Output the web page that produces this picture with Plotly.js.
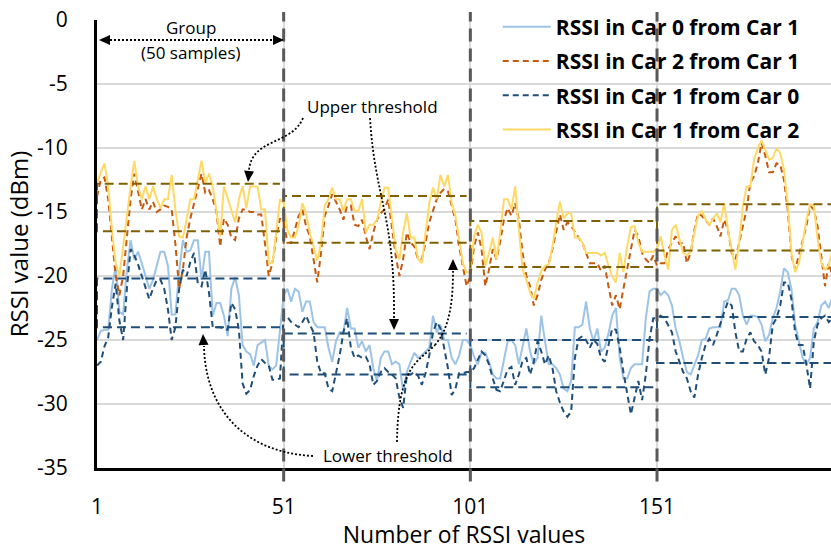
<!DOCTYPE html>
<html><head><meta charset="utf-8">
<script src="https://cdn.plot.ly/plotly-3.0.1.min.js"></script>
<style>html,body{margin:0;padding:0;background:#fff}#chart{width:831px;height:550px}</style>
</head><body><div id="chart"></div>
<script>
// ---------------- data ----------------
const seriesNames = ["RSSI in Car 0 from Car 1", "RSSI in Car 2 from Car 1", "RSSI in Car 1 from Car 0", "RSSI in Car 1 from Car 2"];

const car0FromCar1 = [
-25.0,-24.3,-24.2,-24.2,-21.0,-19.2,-22.8,-23.0,-19.5,-17.2,-18.7,-18.1,-19.0,-20.0,-21.0,-20.3,-19.2,-18.1,-18.1,-19.2,-23.0,-23.0,-19.7,-17.2,-18.1,-18.0,-17.2,-17.2,-20.3,-18.1,-18.1,-23.1,-22.1,-22.1,-23.1,-24.7,-21.0,-20.1,-21.5,-25.4,-25.9,-26.1,-27.0,-25.4,-25.2,-25.0,-27.0,-27.3,-27.0,-24.4,
-21.5,-21.0,-22.0,-21.0,-21.2,-22.8,-22.0,-22.0,-23.6,-24.0,-24.0,-24.0,-25.6,-26.7,-25.1,-24.4,-24.4,-22.5,-24.1,-24.1,-25.6,-25.1,-25.9,-25.4,-27.2,-28.2,-26.4,-25.9,-25.9,-26.9,-26.7,-26.9,-29.0,-27.5,-26.7,-26.0,-26.4,-26.2,-25.9,-25.6,-23.1,-24.4,-23.8,-25.0,-25.0,-26.4,-26.9,-26.2,-25.0,-25.0,
-25.4,-26.3,-26.9,-26.0,-26.0,-26.7,-27.7,-28.0,-28.0,-26.4,-25.1,-25.0,-25.4,-26.9,-25.6,-24.1,-25.9,-26.9,-26.4,-23.1,-25.1,-26.9,-26.9,-27.2,-27.7,-28.8,-29.0,-28.2,-24.0,-24.0,-23.8,-22.0,-24.1,-25.1,-24.1,-25.9,-25.6,-24.5,-23.1,-22.5,-26.4,-28.0,-28.0,-27.2,-26.9,-26.9,-26.9,-23.3,-21.2,-21.0,
-21.0,-21.5,-21.2,-21.5,-22.3,-24.1,-25.1,-26.4,-27.5,-27.7,-26.9,-26.2,-25.0,-24.9,-24.1,-24.0,-24.0,-24.0,-22.0,-21.9,-21.0,-21.0,-21.5,-23.1,-23.8,-23.1,-23.1,-23.2,-23.8,-25.1,-24.6,-23.3,-22.5,-21.2,-19.4,-19.7,-21.0,-23.8,-25.1,-26.4,-26.9,-26.4,-24.1,-23.6,-22.3,-22.0,-22.5,-21.6
];

const car2FromCar1 = [
-13.8,-12.5,-12.3,-14.0,-17.0,-20.0,-21.5,-20.0,-17.0,-14.0,-12.0,-13.5,-14.8,-14.0,-14.8,-14.2,-15.0,-14.8,-14.5,-14.6,-14.8,-17.5,-21.0,-19.5,-17.0,-15.5,-14.3,-13.0,-12.0,-13.5,-13.3,-14.0,-15.0,-17.7,-15.5,-16.0,-17.0,-17.2,-15.5,-14.8,-14.8,-15.0,-15.0,-15.2,-15.2,-17.5,-20.0,-19.0,-17.0,-15.5,
-15.8,-17.4,-17.4,-16.4,-15.3,-14.8,-16.1,-16.9,-18.7,-20.5,-18.2,-15.3,-14.5,-13.6,-14.2,-14.8,-15.6,-14.5,-14.5,-16.0,-16.1,-15.6,-16.9,-17.9,-16.6,-15.6,-15.1,-14.8,-14.0,-16.1,-18.4,-20.0,-18.7,-16.6,-17.4,-17.7,-18.7,-18.7,-17.4,-15.8,-14.8,-14.0,-13.5,-13.2,-13.4,-14.5,-15.6,-17.7,-19.2,-20.8,
-20.0,-17.7,-16.6,-17.9,-20.8,-19.5,-17.9,-18.7,-17.3,-15.6,-14.7,-15.3,-14.3,-15.6,-18.2,-20.0,-20.8,-22.3,-21.5,-20.3,-19.5,-19.0,-17.9,-16.4,-15.2,-16.4,-15.8,-16.1,-16.6,-17.0,-17.4,-18.2,-19.0,-19.0,-19.0,-19.6,-19.2,-20.8,-22.3,-21.5,-22.6,-21.0,-19.5,-17.7,-16.4,-16.9,-18.2,-18.7,-19.0,-18.4,
-19.2,-19.0,-19.0,-17.9,-17.4,-16.9,-17.5,-17.4,-19.0,-18.2,-16.4,-15.1,-15.3,-15.7,-16.0,-15.5,-16.1,-16.9,-15.6,-16.4,-18.2,-18.7,-17.4,-16.1,-14.8,-12.7,-12.2,-11.2,-9.6,-10.6,-11.9,-11.9,-11.2,-11.3,-12.5,-14.8,-18.4,-19.5,-18.4,-17.1,-16.1,-14.5,-14.8,-16.1,-18.4,-20.8,-19.0,-20.0
];

const car1FromCar0 = [
-27.0,-26.7,-25.5,-24.8,-22.4,-20.6,-23.5,-25.0,-21.0,-17.9,-18.4,-19.1,-20.0,-21.0,-21.8,-21.0,-20.3,-20.3,-21.0,-22.6,-25.0,-24.0,-21.0,-19.5,-20.0,-18.9,-18.2,-20.6,-20.8,-19.5,-21.3,-24.0,-24.0,-24.0,-24.1,-24.2,-22.1,-22.6,-24.2,-28.4,-29.2,-28.9,-27.8,-27.0,-26.5,-26.8,-27.0,-28.1,-28.1,-28.0,
-23.1,-23.2,-23.6,-23.8,-24.0,-23.6,-23.1,-23.8,-24.4,-26.7,-27.6,-27.6,-28.8,-29.0,-27.7,-26.2,-24.4,-23.3,-25.6,-26.4,-26.2,-26.4,-26.3,-26.9,-28.5,-28.2,-27.5,-27.2,-27.5,-27.7,-28.0,-29.5,-30.3,-27.7,-27.7,-27.5,-27.8,-28.5,-27.6,-26.2,-24.4,-23.6,-24.1,-25.6,-27.2,-29.3,-28.8,-27.6,-27.6,-27.5,
-27.5,-27.2,-26.6,-25.9,-26.2,-26.9,-28.0,-28.9,-29.0,-28.2,-27.3,-27.1,-28.5,-27.7,-26.6,-26.4,-27.7,-26.7,-25.1,-25.9,-26.9,-26.2,-27.2,-29.0,-29.9,-30.6,-31.0,-30.6,-26.4,-24.9,-24.7,-25.0,-25.6,-25.0,-25.3,-26.4,-26.7,-25.4,-24.1,-24.2,-25.6,-27.5,-29.0,-30.8,-29.5,-28.2,-29.7,-27.7,-24.9,-23.3,
-23.3,-23.1,-23.3,-23.8,-24.4,-25.9,-26.7,-27.5,-28.0,-29.0,-29.5,-27.7,-26.4,-25.4,-24.9,-25.4,-24.6,-23.6,-22.8,-22.0,-22.3,-24.4,-25.9,-25.9,-24.9,-24.4,-25.1,-25.4,-25.9,-27.7,-26.4,-23.8,-23.3,-22.3,-20.5,-20.5,-21.8,-24.4,-25.4,-25.4,-26.9,-28.8,-25.1,-23.8,-23.3,-23.1,-23.6,-23.3
];

const car1FromCar2 = [
-12.7,-12.0,-11.2,-13.0,-16.4,-19.0,-20.0,-17.7,-15.1,-13.0,-11.0,-13.0,-14.0,-13.0,-14.0,-13.0,-14.0,-14.7,-14.0,-14.0,-12.1,-14.8,-16.9,-17.0,-15.6,-14.0,-14.0,-12.5,-11.0,-12.7,-12.0,-13.0,-14.8,-16.9,-13.0,-14.0,-14.8,-15.8,-14.0,-13.0,-14.7,-13.0,-13.0,-13.0,-14.8,-14.8,-19.0,-19.0,-16.6,-14.0,
-14.3,-16.4,-17.0,-17.0,-16.1,-14.3,-15.1,-16.6,-17.7,-18.8,-17.4,-14.5,-14.0,-13.1,-14.0,-14.0,-14.9,-14.0,-14.0,-14.9,-14.9,-14.0,-16.6,-16.0,-16.0,-15.6,-14.3,-13.1,-13.1,-15.6,-17.9,-18.7,-16.6,-15.1,-17.0,-17.0,-18.7,-19.0,-16.6,-14.3,-13.1,-14.0,-12.1,-13.0,-12.1,-14.3,-15.3,-17.1,-19.0,-19.7,
-19.7,-16.9,-16.0,-16.6,-19.2,-18.2,-17.0,-18.7,-16.6,-14.0,-14.0,-14.8,-13.0,-16.4,-19.5,-20.3,-21.3,-21.8,-20.5,-19.6,-19.2,-19.1,-17.7,-15.8,-14.2,-15.5,-15.1,-15.1,-17.0,-17.0,-17.4,-18.2,-18.2,-18.2,-18.2,-18.4,-18.2,-19.2,-20.0,-20.5,-18.2,-19.7,-17.7,-16.2,-16.1,-17.4,-18.1,-18.1,-18.1,-18.1,
-17.9,-16.9,-18.4,-19.5,-16.4,-16.0,-17.1,-18.2,-18.4,-18.1,-16.6,-15.3,-14.9,-15.6,-16.0,-15.6,-15.1,-15.8,-14.3,-16.4,-17.9,-19.5,-17.4,-14.5,-13.0,-13.0,-10.9,-10.0,-9.4,-10.1,-10.9,-10.8,-10.0,-10.4,-11.7,-14.3,-18.2,-19.7,-19.0,-17.4,-15.6,-14.4,-14.5,-17.1,-19.0,-19.5,-19.2,-17.9
];

// group boundaries and thresholds
const groupStart = [1, 51, 101, 151];
const groupEnd = [50, 100, 150, 198];
const upperBandHigh = [-12.8, -13.75, -15.7, -14.4];
const upperBandLow = [-16.5, -17.4, -19.3, -18.0];
const lowerBandHigh = [-20.2, -24.5, -25.0, -23.2];
const lowerBandLow = [-24.0, -27.7, -28.7, -26.8];
const groupDividers = [51, 101, 151];

const xTickVals = [1, 51, 101, 151];
const xTickText = ["1", "51", "101", "151"];
const yTickVals = [0, -5, -10, -15, -20, -25, -30, -35];
const yTickText = ["0", "-5", "-10", "-15", "-20", "-25", "-30", "-35"];

// ---------------- layout helpers ----------------
const W = 831, H = 550, ML = 97, MR = 0, MT = 20, MB = 82;
const XR = [1, 197.6], YR = [-35, 0];
const FONT = "'Open Sans', Lato, sans-serif";
const px2x = px => XR[0] + (px - ML) / (W - ML - MR) * (XR[1] - XR[0]);
const py2y = py => YR[1] - (py - MT) / (H - MT - MB) * (YR[1] - YR[0]);
const P = (px, py) => px2x(px).toFixed(3) + "," + py2y(py).toFixed(3);

function idx(arr) { return arr.map((_, i) => i + 1); }

function thresholdTrace(hi, lo, color) {
  const x = [], y = [];
  for (let g = 0; g < groupStart.length; g++) {
    x.push(groupEnd[g], groupStart[g], groupStart[g], groupEnd[g], null);
    y.push(lo[g], lo[g], hi[g], hi[g], null);
  }
  return {x, y, type: "scatter", mode: "lines", showlegend: false, hoverinfo: "skip",
    line: {color, width: 2, dash: "9px,5px"}, connectgaps: false};
}

const traces = [
  {x: idx(car0FromCar1), y: car0FromCar1, name: seriesNames[0], type: "scatter", mode: "lines",
   line: {color: "#9dc3e6", width: 2}, legendgroup: "a"},
  {x: idx(car2FromCar1), y: car2FromCar1, name: seriesNames[1], type: "scatter", mode: "lines",
   line: {color: "#c55a11", width: 2, dash: "6px,4px"}, legendgroup: "b"},
  {x: idx(car1FromCar0), y: car1FromCar0, name: seriesNames[2], type: "scatter", mode: "lines",
   line: {color: "#1f4e79", width: 2, dash: "6px,4px"}, legendgroup: "c"},
  {x: idx(car1FromCar2), y: car1FromCar2, name: seriesNames[3], type: "scatter", mode: "lines",
   line: {color: "#ffd966", width: 2}, legendgroup: "d"},
  thresholdTrace(upperBandHigh, upperBandLow, "#7f6000"),
  thresholdTrace(lowerBandHigh, lowerBandLow, "#1f4e79")
];

// decorations: dotted arrows
const dotLine = {color: "#000", width: 1.8, dash: "2px,2px"};
function curve(d) { return {type: "path", xref: "x", yref: "y", path: d, line: dotLine, layer: "above"}; }
function head(tx, ty, dx, dy) {
  const len = Math.hypot(dx, dy); dx /= len; dy /= len;
  const bx = tx - 11 * dx, by = ty - 11 * dy, w = 5;
  const path = "M" + P(tx, ty) + " L" + P(bx - dy * w, by + dx * w) + " L" + P(bx + dy * w, by - dx * w) + " Z";
  return {type: "path", xref: "x", yref: "y", path, fillcolor: "#000", line: {width: 0}, layer: "above"};
}

const shapes = [];
groupDividers.forEach(v => shapes.push({type: "line", xref: "x", yref: "paper", x0: v, x1: v,
  y0: -0.03, y1: 1.018, line: {color: "#595959", width: 3, dash: "13px,7px"}, layer: "above"}));
// group span arrow
shapes.push({type: "line", xref: "x", yref: "y", x0: px2x(106), x1: px2x(276), y0: py2y(40), y1: py2y(40), line: dotLine});
shapes.push(head(99, 40, -1, 0));
shapes.push(head(284, 40, 1, 0));
// upper threshold arrows
shapes.push(curve("M" + P(303, 118) + " C" + P(292, 145) + " " + P(252, 138) + " " + P(249, 170)));
shapes.push(head(248, 182, -0.1, 1));
shapes.push(curve("M" + P(370, 118) + " C" + P(375, 200) + " " + P(395, 215) + " " + P(394, 318)));
shapes.push(head(394, 330, 0, 1));
// lower threshold arrows
shapes.push(curve("M" + P(313, 456) + " C" + P(240, 452) + " " + P(205, 405) + " " + P(204, 346)));
shapes.push(head(203, 334, -0.05, -1));
shapes.push(curve("M" + P(397, 442) + " C" + P(398, 365) + " " + P(418, 362) + " " + P(435, 345)));
shapes.push(curve("M" + P(435, 345) + " C" + P(450, 328) + " " + P(453, 300) + " " + P(453, 271)));
shapes.push(head(453, 259, 0, -1));

const annFont = {family: FONT, size: 17, color: "#000"};
const annotations = [
  {x: px2x(191), y: py2y(27), xref: "x", yref: "y", text: "Group", showarrow: false, font: annFont},
  {x: px2x(191), y: py2y(52), xref: "x", yref: "y", text: "(50 samples)", showarrow: false, font: annFont},
  {x: px2x(372), y: py2y(106), xref: "x", yref: "y", text: "Upper threshold", showarrow: false, font: annFont},
  {x: px2x(388), y: py2y(455), xref: "x", yref: "y", text: "Lower threshold", showarrow: false, font: annFont}
];

const layout = {
  width: W, height: H,
  margin: {l: ML, r: MR, t: MT, b: MB, pad: 0},
  paper_bgcolor: "#fff", plot_bgcolor: "#fff",
  font: {family: FONT, color: "#000"},
  showlegend: true,
  legend: {x: 0.546, xanchor: "left", y: 1.03, yanchor: "top", bgcolor: "rgba(0,0,0,0)",
    font: {family: FONT, size: 21, color: "#000", weight: "bold"}, itemwidth: 48, tracegroupgap: 4},
  xaxis: {range: XR, tickmode: "array", tickvals: xTickVals, ticktext: xTickText, automargin: false,
    showgrid: true, gridcolor: "#d9d9d9", gridwidth: 2, zeroline: false,
    showline: true, linecolor: "#000", linewidth: 3, ticks: "outside", ticklen: 18, tickcolor: "rgba(0,0,0,0)",
    tickfont: {family: FONT, size: 21, color: "#000"},
    title: {text: "Number of RSSI values", font: {family: FONT, size: 23, color: "#000"}, standoff: 4}},
  yaxis: {range: YR, tickmode: "array", tickvals: yTickVals, ticktext: yTickText, automargin: false,
    showgrid: true, gridcolor: "#d9d9d9", gridwidth: 2.5, zeroline: false,
    showline: true, linecolor: "#000", linewidth: 3, ticks: "outside", ticklen: 22, tickcolor: "rgba(0,0,0,0)",
    tickfont: {family: FONT, size: 21, color: "#000"},
    title: {text: "RSSI value (dBm)", font: {family: FONT, size: 24, color: "#000"}, standoff: 2}},
  shapes, annotations
};

Plotly.newPlot("chart", traces, layout, {displayModeBar: false, staticPlot: true});
</script></body></html>
